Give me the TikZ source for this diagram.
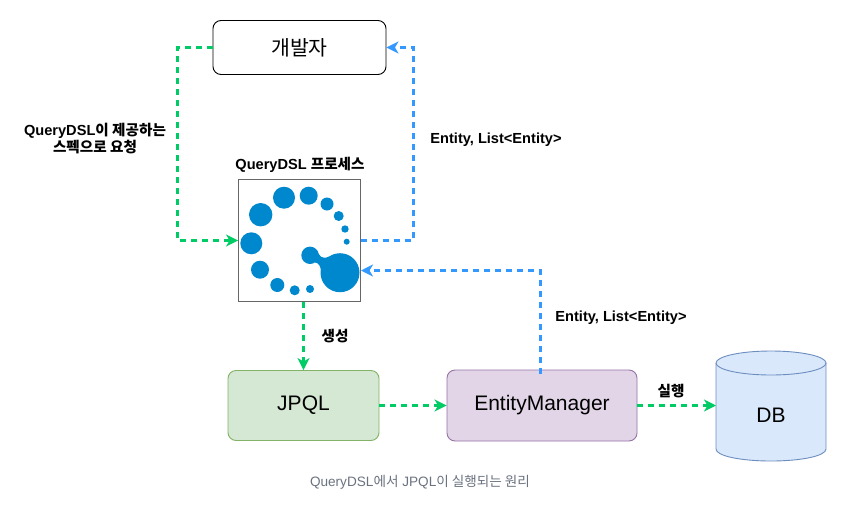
\documentclass[tikz,border=0pt]{standalone}
\usepackage{fontspec}
\setmainfont{Liberation Sans}
\newfontfamily\kr{Noto Sans CJK KR}
\usetikzlibrary{arrows.meta,calc}
\definecolor{gline}{HTML}{00CC66}
\definecolor{bline}{HTML}{3399FF}
\definecolor{logo}{HTML}{0088CE}
\definecolor{jfill}{HTML}{D5E8D4}
\definecolor{jline}{HTML}{82B366}
\definecolor{efill}{HTML}{E1D5E7}
\definecolor{eline}{HTML}{9673A6}
\definecolor{dfill}{HTML}{DAE8FC}
\definecolor{dline}{HTML}{6C8EBF}
\definecolor{capt}{HTML}{6B7280}
\tikzset{
  x=1pt,y=-1pt,
  box/.style={draw,line width=0.9pt,rounded corners=8pt,inner sep=0pt,font=\fontsize{21}{24}\selectfont},
  lab/.style={font=\fontsize{14.6}{17}\selectfont\bfseries,align=center,inner sep=0pt},
  gflow/.style={draw=gline,line width=2.3pt,dash pattern=on 6pt off 5pt,-{Stealth[length=12pt,width=12pt,inset=3.5pt]}},
  bflow/.style={draw=bline,line width=2.3pt,dash pattern=on 6pt off 5pt,-{Stealth[length=12pt,width=12pt,inset=3.5pt]}},
  dot/.style={fill=logo,draw=none},
}
\begin{document}
\begin{tikzpicture}
\useasboundingbox (0,0) rectangle (853,514);
\fill[white] (0,0) rectangle (853,514);
\node[box,draw=black,fill=white,minimum width=173pt,minimum height=54pt] (dev) at (299.5,47.5) {\fontsize{20.5}{24}\selectfont\kr 개발자};
\node[draw=black!60,line width=1pt,fill=white,minimum width=121.5pt,minimum height=121.5pt,inner sep=0pt] (qd) at (299.3,240.5) {};
\node[box,draw=jline,fill=jfill,minimum width=151pt,minimum height=70pt] (jpql) at (303.5,405.5) {\raisebox{-3.5pt}{JPQL}};
\node[box,draw=eline,fill=efill,minimum width=190pt,minimum height=71pt] (em) at (542,405.5) {\raisebox{-3.5pt}{EntityManager}};
% database
\fill[dfill] (716,363) -- (716,449) .. controls (716,456) and (741,461) .. (771,461) .. controls (801,461) and (826,456) .. (826,449) -- (826,363) -- cycle;
\draw[dline,line width=0.9pt,fill=dfill] (771,363) ellipse [x radius=55pt,y radius=12pt];
\draw[dline,line width=0.9pt] (716,363) -- (716,449) .. controls (716,456) and (741,461) .. (771,461) .. controls (801,461) and (826,456) .. (826,449) -- (826,363);
\node[font=\fontsize{21}{24}\selectfont,inner sep=0pt] (db) at (771,415) {DB};
\coordinate (dbw) at (716,405.5);
% logo
\fill[dot] (340,272.7) circle (19.5);
\fill[dot] (310,255.3) circle (8.7);
\fill[dot] (317,250) .. controls (319,256) and (322,260) .. (329,256.5) -- (321,270) .. controls (320,266) and (319,263) .. (315,262.5) -- cycle;
\fill[dot] (284,197.7) circle (11);
\fill[dot] (308.7,195.7) circle (9);
\fill[dot] (327,204) circle (6.5);
\fill[dot] (338.7,216) circle (5);
\fill[dot] (345,229) circle (3.7);
\fill[dot] (346.7,241.7) circle (3);
\fill[dot] (260.7,214.7) circle (11.7);
\fill[dot] (251.3,243.3) circle (11);
\fill[dot] (260,269.7) circle (9);
\fill[dot] (277.3,285) circle (7);
\fill[dot] (294.7,290.3) circle (5);
\fill[dot] (310,289) circle (4);
% connector waypoints
\coordinate (c1) at (177.5,47.5);
\coordinate (c2) at (413.5,240.5);
\coordinate (c3) at (540.5,270.5);
\coordinate (qdin) at (361,270.5);
\coordinate (emtop) at (540.5,374);
% connectors
\draw[gflow] (dev.west) -- (dev.west -| c1) -- (c1 |- qd.west) -- (qd.west);
\draw[bflow] (qd.east) -- (qd.east -| c2) -- (c2 |- dev.east) -- (dev.east);
\draw[bflow] (emtop) -- (c3) -- (qdin);
\draw[gflow] (qd.south -| jpql.north) -- (jpql.north);
\draw[gflow] (jpql.east) -- (jpql.east -| em.west);
\draw[gflow] (em.east) -- (dbw);
% labels
\node[lab] (l1) at (95,139) {QueryDSL{\kr 이 제공하는}\\{\kr 스펙으로 요청}};
\node[lab] (l2) at (300,165) {QueryDSL {\kr 프로세스}};
\node[lab] (l3) at (496,140) {Entity, List<Entity>};
\node[lab] (l4) at (335,336) {\kr 생성};
\node[lab] (l5) at (621,318) {Entity, List<Entity>};
\node[lab] (l6) at (671,391) {\kr 실행};
\node[font=\fontsize{13.6}{15}\selectfont,text=capt,inner sep=0pt] (cap) at (420,482.5) {QueryDSL{\kr 에서} JPQL{\kr 이 실행되는 원리}};
\end{tikzpicture}
\end{document}
